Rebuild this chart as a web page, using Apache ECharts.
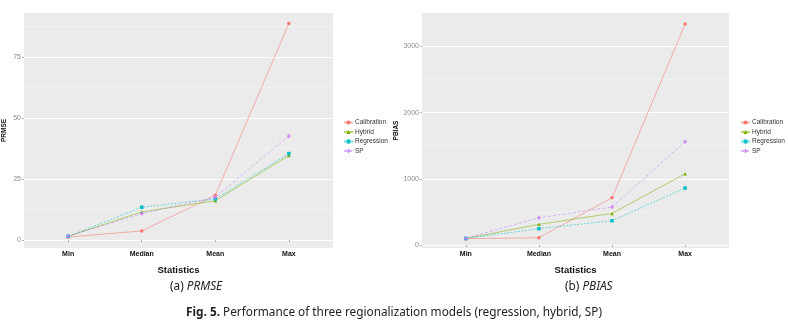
<!DOCTYPE html>
<html><head><meta charset="utf-8">
<script src="https://cdn.jsdelivr.net/npm/echarts@6/dist/echarts.min.js"></script>
<style>html,body{margin:0;padding:0;background:#fff}#c{width:788px;height:327px}</style>
</head><body><div id="c"></div>
<script>
const categories = ['Min', 'Median', 'Mean', 'Max'];
const seriesNames = ['Calibration', 'Hybrid', 'Regression', 'SP'];

const prmseCalibration = [1.2, 3.7, 18.3, 88.7];
const prmseHybrid      = [1.5, 11.5, 16.1, 34.6];
const prmseRegression  = [1.5, 13.4, 16.8, 35.4];
const prmseSP          = [1.5, 10.8, 17.5, 42.6];

const pbiasCalibration = [95, 110, 715, 3338];
const pbiasHybrid      = [100, 312, 478, 1077];
const pbiasRegression  = [100, 247, 367, 861];
const pbiasSP          = [100, 412, 574, 1560];

const prmseTicks = [0, 25, 50, 75];
const prmseMinor = [12.5, 37.5, 62.5, 87.5];
const pbiasTicks = [0, 1000, 2000, 3000];
const pbiasMinor = [500, 1500, 2500];

const colors = ['#F8766D', '#7CAE00', '#00BFC4', '#C77CFF'];
const lineTypes = ['solid', 'solid', [2, 1.5], [3, 2]];
const plusPath = 'path://M-0.3,-1H0.3V-0.3H1V0.3H0.3V1H-0.3V0.3H-1V-0.3H-0.3Z';
const symbols = ['circle', 'triangle', 'rect', plusPath];

const prmseData = [prmseCalibration, prmseHybrid, prmseRegression, prmseSP];
const pbiasData = [pbiasCalibration, pbiasHybrid, pbiasRegression, pbiasSP];

const chart = echarts.init(document.getElementById('c'), null, {renderer: 'canvas'});

function xAxisFor(gi) {
  return {
    type: 'value', gridIndex: gi, min: 0.4, max: 4.6,
    axisLine: {show: false},
    axisTick: {show: true, length: 2, customValues: [1, 2, 3, 4], lineStyle: {color: '#999', width: 0.8}},
    axisLabel: {customValues: [1, 2, 3, 4], formatter: v => categories[Math.round(v) - 1],
      fontFamily: 'Liberation Sans', fontWeight: 'bold', fontSize: 7, color: '#111', margin: 3},
    splitLine: {show: false},
    name: 'Statistics', nameLocation: 'middle', nameGap: 17,
    nameTextStyle: {fontFamily: 'Liberation Sans', fontWeight: 'bold', fontSize: 9.5, color: '#111'}
  };
}
function yAxisFor(gi, min, max, ticks, name, gap) {
  return {
    type: 'value', gridIndex: gi, min: min, max: max,
    axisLine: {show: false},
    axisTick: {show: true, length: 2, customValues: ticks, lineStyle: {color: '#999', width: 0.8}},
    axisLabel: {customValues: ticks, formatter: v => String(v),
      fontFamily: 'Liberation Sans', fontSize: 7, color: '#8c8c8c', margin: 3},
    splitLine: {show: true, lineStyle: {color: '#ffffff', width: 1}},
    name: name, nameLocation: 'middle', nameGap: gap, nameRotate: 90,
    nameTextStyle: {fontFamily: 'Liberation Sans', fontWeight: 'bold', fontSize: 6.5, color: '#111'}
  };
}
function yMinorFor(gi, min, max, ticks) {
  return {
    type: 'value', gridIndex: gi, min: min, max: max, position: 'left',
    axisLine: {show: false},
    axisTick: {show: false, customValues: ticks},
    axisLabel: {show: false, customValues: ticks},
    splitLine: {show: true, lineStyle: {color: '#f7f7f7', width: 0.5}}
  };
}

const series = [];
[prmseData, pbiasData].forEach((dataset, gi) => {
  dataset.forEach((vals, si) => {
    series.push({
      name: seriesNames[si], type: 'line',
      xAxisIndex: gi, yAxisIndex: gi * 2,
      data: vals.map((v, i) => [i + 1, v]),
      symbol: symbols[si], symbolSize: si === 3 ? 4 : 3.5,
      itemStyle: {color: colors[si]},
      lineStyle: {color: colors[si], width: 1, type: lineTypes[si], opacity: 0.55},
      z: 3 + si, animation: false
    });
  });
});

function legendFor(left) {
  return {
    orient: 'vertical', left: left, top: 114, itemGap: 2.5,
    itemWidth: 9, itemHeight: 5,
    data: seriesNames,
    textStyle: {fontFamily: 'Liberation Sans', fontSize: 6.5, color: '#333', padding: [0, 0, 0, -3]},
    selectedMode: false
  };
}

const capFont = 'Noto Sans';
const capSize = 11.8;
chart.setOption({
  animation: false,
  backgroundColor: '#ffffff',
  grid: [
    {left: 23, top: 13, width: 310, height: 235, show: true, backgroundColor: '#EBEBEB', borderWidth: 0},
    {left: 422, top: 13, width: 307, height: 235, show: true, backgroundColor: '#EBEBEB', borderWidth: 0}
  ],
  xAxis: [xAxisFor(0), xAxisFor(1)],
  yAxis: [
    yAxisFor(0, -3.3, 93.0, prmseTicks, 'PRMSE', 16),
    yMinorFor(0, -3.3, 93.0, prmseMinor),
    yAxisFor(1, -45, 3505, pbiasTicks, 'PBIAS', 21),
    yMinorFor(1, -45, 3505, pbiasMinor)
  ],
  legend: [legendFor(338), legendFor(735)],
  title: [
    {text: '(a) {i|PRMSE}', left: 165, top: 276,
      textStyle: {fontFamily: capFont, fontSize: capSize, fontWeight: 'normal', color: '#222',
        rich: {i: {fontFamily: capFont, fontSize: capSize, fontStyle: 'italic', color: '#222'}}}},
    {text: '(b) {i|PBIAS}', left: 560, top: 276,
      textStyle: {fontFamily: capFont, fontSize: capSize, fontWeight: 'normal', color: '#222',
        rich: {i: {fontFamily: capFont, fontSize: capSize, fontStyle: 'italic', color: '#222'}}}},
    {text: '{b|Fig. 5.} Performance of three regionalization models (regression, hybrid, SP)', left: 'center', top: 302,
      textStyle: {fontFamily: capFont, fontSize: capSize, fontWeight: 'normal', color: '#222',
        rich: {b: {fontFamily: capFont, fontSize: capSize, fontWeight: 'bold', color: '#222'}}}}
  ],
  series: series
});
</script>
</body></html>
